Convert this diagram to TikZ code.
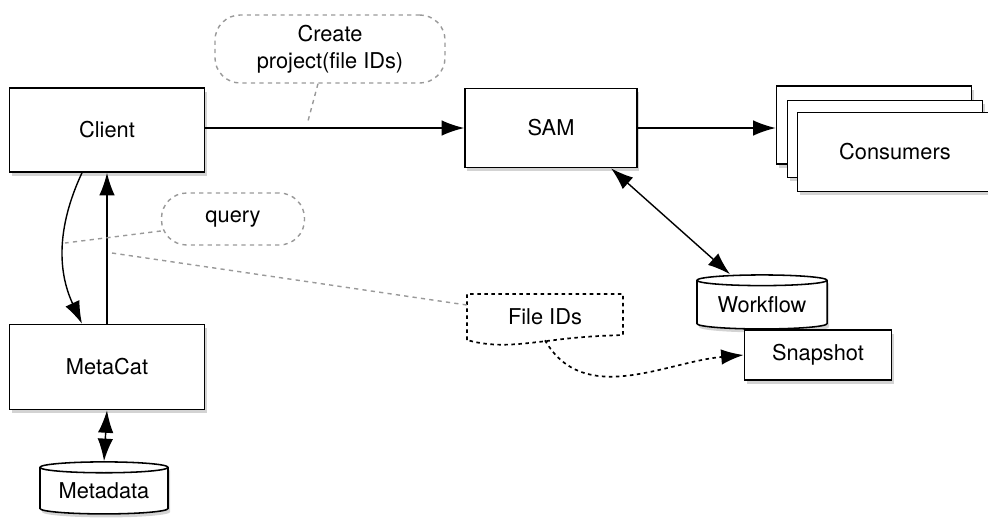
\documentclass[tikz,border=0pt]{standalone}
\usepackage{fontspec}
\setmainfont{TeX Gyre Heros}
\usetikzlibrary{positioning}
\usetikzlibrary{shapes.geometric}
\usetikzlibrary{shadows}
\usetikzlibrary{arrows.meta}

\begin{document}
\begin{tikzpicture}[x=0.025cm, y=-0.025cm, >={Latex[length=16pt,width=11pt]},
  every node/.style={font=\fontsize{15.5}{19}\selectfont},
  box/.style={draw, line width=1.1pt, fill=white, inner sep=0pt,
    drop shadow={shadow xshift=1.5pt, shadow yshift=-2.5pt, opacity=0.35}},
  db/.style={box, cylinder, shape border rotate=90, aspect=0.12},
  callout/.style={draw=gray!80, dash pattern=on 3pt off 3pt, line width=1pt,
    rounded corners=18pt, align=center},
  note/.style={gray!80, dash pattern=on 3pt off 3pt, line width=1pt},
  link/.style={->, line width=1pt}]
\useasboundingbox (0,0) rectangle (988,522);

% boxes
\node[box, minimum width=4.875cm, minimum height=2.1cm] (client) at (107,130) {Client};
\node[box, minimum width=4.875cm, minimum height=2.125cm] (metacat) at (107,367) {MetaCat};
\node[db, minimum width=3.2cm, minimum height=1.3cm] (metadata) at (104,491) {Metadata};
\node[box, minimum width=4.3cm, minimum height=1.975cm] (sam) at (551,128) {SAM};
\node[box, minimum width=4.875cm, minimum height=1.95cm] (cons1) at (874,125) {};
\node[box, minimum width=4.875cm, minimum height=1.925cm] (cons2) at (885,139) {};
\node[box, minimum width=4.875cm, minimum height=1.975cm] (consumers) at (895,152) {Consumers};
\node[db, minimum width=3.25cm, minimum height=1.35cm] (workflow) at (762,305) {Workflow};
\node[box, minimum width=3.675cm, minimum height=1.25cm] (snapshot) at (818,355) {Snapshot};

% callouts
\node[callout, minimum width=5.75cm, minimum height=1.7cm] (create) at (330,49) {Create\\project(file IDs)};
\node[callout, minimum width=3.575cm, minimum height=1.3cm] (query) at (233,219) {query};
\node[minimum width=3.9cm, minimum height=1.15cm] (fileids) at (545,317) {File IDs};
\draw[dash pattern=on 2.5pt off 2.5pt, line width=1.2pt] (467,340) -- (467,294) -- (623,294) -- (623,335)
  .. controls (590,336) and (570,338) .. (547,341) .. controls (520,344) and (495,348) .. (467,340);

\coordinate (ctip) at (308,121);
\coordinate (qtip) at (65,243);
\coordinate (ftip) at (112,253);

% connectors
\draw[link] (client.east |- sam.west) -- (sam.west);
\draw[link] (sam.east) -- (sam.east -| cons1.west);
\draw[link] ([xshift=-0.625cm]client.south) to[bend right=25] ([xshift=-0.625cm]metacat.north);
\draw[link] (metacat.north) -- (client.south);
\draw[link, <->] (metacat.south) -- (metadata.north);
\draw[link, <->] ([xshift=1.5cm]sam.south) -- ([xshift=-0.8cm]workflow.north);
\draw[->, dash pattern=on 2.5pt off 2.5pt, line width=1.2pt] (fileids.south) to[out=-60, in=185] (snapshot.west);

% notes
\draw[note] ([xshift=-0.3cm]create.south) -- (ctip);
\draw[note] ([yshift=-0.3cm]query.west) -- (qtip);
\draw[note] (ftip) -- ([yshift=0.3cm]fileids.west);
\end{tikzpicture}
\end{document}
